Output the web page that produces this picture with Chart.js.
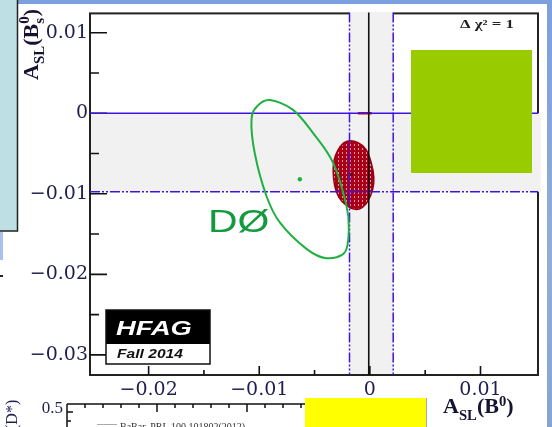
<!DOCTYPE html>
<html>
<head>
<meta charset="utf-8">
<script src="https://cdn.jsdelivr.net/npm/chart.js@4.4.0/dist/chart.umd.min.js"></script>
<style>
  html, body { margin: 0; padding: 0; background: #fff; }
  #wrap { width: 552px; height: 427px; }
</style>
</head>
<body>
<div id="wrap"><canvas id="asl" width="552" height="427"></canvas></div>
<script>
// axis ranges and ticks
const xRange = [-0.0253, 0.0152];
const yRange = [-0.0325, 0.0124];
const xMajorTicks = [-0.02, -0.01, 0, 0.01];
const xTickLabels = ['\u22120.02', '\u22120.01', '0', '0.01'];
const xMinorTicks = [-0.015, -0.005, 0.005];
const yMajorTicks = [0.01, 0, -0.01, -0.02, -0.03];
const yTickLabels = ['0.01', '0', '\u22120.01', '\u22120.02', '\u22120.03'];
const yMinorTicks = [0.005, -0.005, -0.015, -0.025];

// D0 contour
const d0ContourX = [-0.00905, -0.00694, -0.00513, -0.00332, -0.00211, -0.00190, -0.00226,
                    -0.00392, -0.00573, -0.00814, -0.00935, -0.01041, -0.01070, -0.01018];
const d0ContourY = [0.00165, 0.00042, -0.00247, -0.00617, -0.01150, -0.01438, -0.01726,
                    -0.01800, -0.01684, -0.01356, -0.01027, -0.00494, -0.00078, 0.00089];
const d0Center = [-0.00633, -0.00819];

// average contour (red)
const avgContourX = [-0.00181, -0.00036, 0.00036, -0.00018, -0.00136, -0.00281, -0.00332, -0.00290];
const avgContourY = [-0.00341, -0.00448, -0.00802, -0.01090, -0.01193, -0.01041, -0.00720, -0.00460];
const avgCenter = [-0.00166, -0.0076];

// small red bar on y = 0
const bsBarX = [-0.00109, 0.00018];
const bsBarY = [0, 0];

// 1 sigma bands and SM line
const b0BandX = [-0.00184, 0.00211];
const bsBandY = [-0.00975, 0];
const smLineX = -0.0001;

const toPts = (xs, ys) => xs.map((x, i) => ({x: x, y: ys[i]}));
const labelFor = (vals, labels, v) => labels[vals.findIndex(t => Math.abs(t - v) < 1e-9)];

// hatch pattern for the red contour
const pc = document.createElement('canvas');
pc.width = 4; pc.height = 4;
const pctx = pc.getContext('2d');
pctx.fillStyle = '#a80018';
pctx.fillRect(0, 0, 4, 4);
pctx.fillStyle = 'rgba(255,190,190,0.8)';
pctx.fillRect(2, 0, 1, 2);

function closedSpline(ctx, pts) {
    const n = pts.length;
    ctx.beginPath();
    ctx.moveTo(pts[0].x, pts[0].y);
    for (let i = 0; i < n; i++) {
        const p0 = pts[(i - 1 + n) % n], p1 = pts[i], p2 = pts[(i + 1) % n], p3 = pts[(i + 2) % n];
        ctx.bezierCurveTo(p1.x + (p2.x - p0.x) / 6, p1.y + (p2.y - p0.y) / 6,
                          p2.x - (p3.x - p1.x) / 6, p2.y - (p3.y - p1.y) / 6, p2.x, p2.y);
    }
    ctx.closePath();
}

function richText(ctx, parts, x, y, sx, color) {
    ctx.save();
    ctx.translate(x, y);
    ctx.scale(sx, 1);
    ctx.fillStyle = color;
    ctx.textBaseline = 'alphabetic';
    let cx = 0;
    parts.forEach(p => {
        ctx.font = p.font;
        ctx.fillText(p.t, cx, p.dy || 0);
        if (!p.stack) cx += ctx.measureText(p.t).width;
    });
    ctx.restore();
}

const hfagPlugin = {
    id: 'hfag',
    beforeDraw(chart) {
        const ctx = chart.ctx;
        ctx.save();
        ctx.fillStyle = '#fff';
        ctx.fillRect(0, 0, 552, 427);
        ctx.fillStyle = '#7c9fdd';
        ctx.fillRect(0, 0, 552, 4);
        const g = ctx.createLinearGradient(0, 0, 0, 427);
        g.addColorStop(0, '#7c9fdd');
        g.addColorStop(0.6, '#93acd9');
        g.addColorStop(1, '#86a3d6');
        ctx.fillStyle = g;
        ctx.fillRect(547, 0, 5, 427);
        ctx.restore();
    },
    beforeDatasetsDraw(chart) {
        const {ctx, chartArea: a, scales: {x, y}} = chart;
        ctx.save();
        // frame
        ctx.strokeStyle = '#222';
        ctx.lineWidth = 2;
        ctx.strokeRect(a.left, a.top, a.right - a.left, a.bottom - a.top);
        // bands
        ctx.fillStyle = '#f1f1f1';
        const by0 = y.getPixelForValue(bsBandY[1]), by1 = y.getPixelForValue(bsBandY[0]);
        ctx.fillRect(a.left + 1.2, by0, a.right - a.left + 1.5, by1 - by0);
        const bx0 = x.getPixelForValue(b0BandX[0]), bx1 = x.getPixelForValue(b0BandX[1]);
        ctx.fillRect(bx0, a.top - 1.5, bx1 - bx0, a.bottom - a.top + 0.3);
        // red contour
        const pts = chart.getDatasetMeta(2).data.map(p => ({x: p.x, y: p.y}));
        closedSpline(ctx, pts);
        ctx.fillStyle = ctx.createPattern(pc, 'repeat');
        ctx.fill();
        ctx.strokeStyle = '#9a0010';
        ctx.lineWidth = 1.5;
        ctx.stroke();
        // ticks
        ctx.strokeStyle = '#111';
        ctx.lineWidth = 1.6;
        ctx.beginPath();
        yMajorTicks.forEach(v => { const py = y.getPixelForValue(v); ctx.moveTo(a.left, py); ctx.lineTo(a.left + 17, py); });
        yMinorTicks.forEach(v => { const py = y.getPixelForValue(v); ctx.moveTo(a.left, py); ctx.lineTo(a.left + 9, py); });
        xMajorTicks.forEach(v => { const px = x.getPixelForValue(v); ctx.moveTo(px, a.bottom); ctx.lineTo(px, a.bottom - 9); });
        xMinorTicks.forEach(v => { const px = x.getPixelForValue(v); ctx.moveTo(px, a.bottom); ctx.lineTo(px, a.bottom - 5); });
        ctx.stroke();
        ctx.restore();
    },
    afterDatasetsDraw(chart) {
        const {ctx, chartArea: a, scales: {x, y}} = chart;
        ctx.save();
        ctx.strokeStyle = '#4012e0';
        ctx.lineWidth = 1.5;
        // solid line at y = 0, dash-dot at the other band edge
        const y0 = y.getPixelForValue(bsBandY[1]);
        ctx.beginPath(); ctx.moveTo(a.left, y0); ctx.lineTo(a.right, y0); ctx.stroke();
        ctx.setLineDash([10, 2, 2, 2, 2, 2]);
        const y1 = y.getPixelForValue(bsBandY[0]);
        ctx.beginPath(); ctx.moveTo(a.left, y1); ctx.lineTo(a.right, y1); ctx.stroke();
        b0BandX.forEach(v => {
            const px = x.getPixelForValue(v);
            ctx.beginPath(); ctx.moveTo(px, a.top - 1); ctx.lineTo(px, a.bottom); ctx.stroke();
        });
        ctx.setLineDash([]);
        // SM line
        ctx.strokeStyle = '#111';
        ctx.lineWidth = 1.6;
        const sx = x.getPixelForValue(smLineX);
        ctx.beginPath(); ctx.moveTo(sx, a.top - 1); ctx.lineTo(sx, a.bottom); ctx.stroke();
        // D0 contour
        const pts = chart.getDatasetMeta(0).data.map(p => ({x: p.x, y: p.y}));
        closedSpline(ctx, pts);
        ctx.strokeStyle = '#20b040';
        ctx.lineWidth = 2;
        ctx.stroke();
        ctx.restore();
    },
    afterDraw(chart) {
        const ctx = chart.ctx;
        ctx.save();
        // texts in the plot
        richText(ctx, [{t: '\u0394 \u03c7\u00b2 = 1', font: 'bold 12px "Liberation Serif"'}], 460, 28, 1.4, '#222');
        richText(ctx, [{t: 'D\u00d8', font: '32px "Liberation Sans"'}], 208, 232, 1.28, '#129a3c');
        ctx.fillStyle = '#000';
        ctx.fillRect(106, 310, 104, 34);
        ctx.fillStyle = '#fff';
        ctx.fillRect(106, 344, 104, 20);
        ctx.strokeStyle = '#111';
        ctx.lineWidth = 1.5;
        ctx.strokeRect(106, 310, 104, 54);
        richText(ctx, [{t: 'HFAG', font: 'bold italic 21px "Liberation Sans"'}], 116, 335, 1.3, '#fff');
        richText(ctx, [{t: 'Fall 2014', font: 'bold italic 12px "Liberation Sans"'}], 117, 358, 1.3, '#111');
        // axis titles
        const big = 'bold 21px "Liberation Serif"', small = 'bold 14px "Liberation Serif"';
        richText(ctx, [{t: 'A', font: big}, {t: 'SL', font: small, dy: 7}, {t: '(B', font: big},
                       {t: '0', font: small, dy: -7}, {t: ')', font: big}], 443, 413, 1.05, '#141432');
        ctx.save();
        ctx.translate(38, 80);
        ctx.rotate(-Math.PI / 2);
        richText(ctx, [{t: 'A', font: 'bold 22px "Liberation Serif"'}, {t: 'SL', font: 'bold 15px "Liberation Serif"', dy: 6},
                       {t: '(B', font: 'bold 22px "Liberation Serif"'}, {t: 's', font: 'bold 15px "Liberation Serif"', dy: 6, stack: true},
                       {t: '0', font: 'bold 15px "Liberation Serif"', dy: -9}, {t: ')', font: 'bold 22px "Liberation Serif"'}],
                 0, 0, 1, '#141432');
        ctx.restore();

        // top of the next plot on the slide
        ctx.strokeStyle = '#111';
        ctx.lineWidth = 1.5;
        ctx.beginPath();
        ctx.moveTo(67, 404); ctx.lineTo(420, 404);
        ctx.moveTo(67, 404); ctx.lineTo(67, 427);
        for (let i = 1; i < 20; i++) {
            const px = 67 + i * 18;
            ctx.moveTo(px, 404); ctx.lineTo(px, 404 + (i % 5 === 0 ? 8 : 4));
        }
        ctx.moveTo(67, 412); ctx.lineTo(73, 412);
        ctx.moveTo(67, 421); ctx.lineTo(71, 421);
        ctx.stroke();
        ctx.fillStyle = '#1e1e50';
        ctx.font = '17px "Liberation Serif"';
        ctx.textAlign = 'right';
        ctx.fillText('0.5', 63, 413);
        ctx.textAlign = 'left';
        ctx.strokeStyle = '#aaa';
        ctx.lineWidth = 1;
        ctx.beginPath(); ctx.moveTo(97, 424.5); ctx.lineTo(117, 424.5); ctx.stroke();
        ctx.fillStyle = '#333';
        ctx.font = '10px "Liberation Serif"';
        ctx.fillText('BaBar, PRL 100 101802(2012)', 120, 430);
        ctx.save();
        ctx.translate(17, 430);
        ctx.rotate(-Math.PI / 2);
        ctx.fillStyle = '#1e1e50';
        ctx.font = '16px "Liberation Serif"';
        ctx.fillText('(D*)', 0, 0);
        ctx.restore();

        // slide overlays
        ctx.fillStyle = '#bce0e3';
        ctx.fillRect(-2, -2, 19.5, 233);
        ctx.strokeStyle = '#222';
        ctx.lineWidth = 1.5;
        ctx.strokeRect(-2, -2, 19.5, 233);
        ctx.fillStyle = '#a9c1ef';
        ctx.fillRect(0, 232, 3, 28);
        ctx.fillStyle = '#222';
        ctx.fillRect(0, 275, 3, 2);
        ctx.fillStyle = '#99cc00';
        ctx.fillRect(411, 50, 121, 123);
        ctx.fillStyle = '#ffff00';
        ctx.fillRect(305, 398, 121, 29);
        ctx.fillStyle = '#aaa';
        ctx.fillRect(426, 398, 1, 29);
        ctx.restore();
    }
};

const serifTick = {family: '"DejaVu Serif"', size: 19};

new Chart(document.getElementById('asl'), {
    type: 'scatter',
    data: {
        datasets: [
            {label: 'D0', data: toPts(d0ContourX, d0ContourY), showLine: false, pointRadius: 0},
            {label: 'D0 central', data: [{x: d0Center[0], y: d0Center[1]}], pointRadius: 2.2,
             backgroundColor: '#20b040', borderWidth: 0},
            {label: 'average', data: toPts(avgContourX, avgContourY), showLine: false, pointRadius: 0},
            {label: 'average central', data: [{x: avgCenter[0], y: avgCenter[1]}], pointStyle: 'rect',
             pointRadius: 2.2, backgroundColor: '#700000', borderWidth: 0},
            {label: 'Bs', data: toPts(bsBarX, bsBarY), showLine: true, borderColor: '#c01010',
             borderWidth: 2.5, pointRadius: 0}
        ]
    },
    options: {
        responsive: false,
        animation: false,
        devicePixelRatio: 1,
        layout: {padding: {top: 11, right: 14, left: 0, bottom: 0}},
        plugins: {legend: {display: false}, tooltip: {enabled: false}},
        scales: {
            x: {
                type: 'linear', min: xRange[0], max: xRange[1],
                grid: {display: false, drawTicks: false}, border: {display: false},
                afterBuildTicks: s => { s.ticks = xMajorTicks.map(v => ({value: v})); },
                afterFit: s => { s.height = 52; },
                ticks: {autoSkip: false, maxRotation: 0, padding: 4, color: '#1e1e50', font: serifTick,
                        callback: v => labelFor(xMajorTicks, xTickLabels, v)}
            },
            y: {
                type: 'linear', min: yRange[0], max: yRange[1],
                grid: {display: false, drawTicks: false}, border: {display: false},
                afterBuildTicks: s => { s.ticks = yMajorTicks.map(v => ({value: v})); },
                afterFit: s => { s.width = 90; },
                ticks: {autoSkip: false, padding: 2, color: '#1e1e50', font: serifTick,
                        callback: v => labelFor(yMajorTicks, yTickLabels, v)}
            }
        }
    },
    plugins: [hfagPlugin]
});
</script>
</body>
</html>
